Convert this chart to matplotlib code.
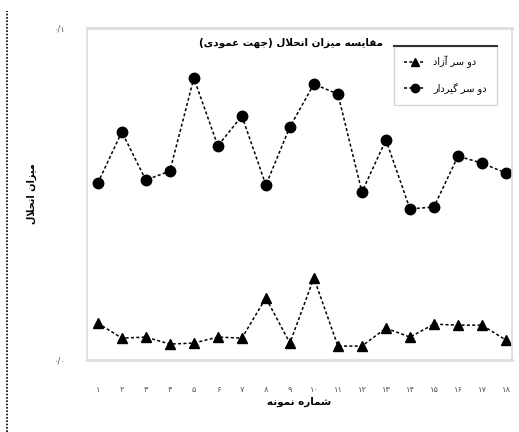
import matplotlib
matplotlib.use("Agg")
import matplotlib.pyplot as plt
from matplotlib.lines import Line2D

# ---------------- data ----------------
samples = list(range(1, 19))
tick_labels = ["۱", "۲", "۳", "۴", "۵", "۶", "۷", "۸", "۹", "۱۰",
               "۱۱", "۱۲", "۱۳", "۱۴", "۱۵", "۱۶", "۱۷", "۱۸"]
free_free = [0.0111, 0.0066, 0.0069, 0.0048, 0.0051, 0.0069, 0.0066, 0.0187, 0.0051,
             0.0247, 0.0042, 0.0042, 0.0096, 0.0069, 0.0108, 0.0105, 0.0105, 0.0060]
fixed_fixed = [0.0533, 0.0687, 0.0542, 0.0569, 0.0849, 0.0645, 0.0735, 0.0527, 0.0702,
               0.0831, 0.0801, 0.0506, 0.0663, 0.0455, 0.0461, 0.0614, 0.0593, 0.0563]
y_ticks = [0.0, 0.1]
y_tick_labels = ["۰/۰", "۰/۱"]
title_text = "مقایسه میزان انحلال (جهت عمودی)"
xlabel_text = "شماره نمونه"
ylabel_text = "میزان انحلال"
series_names = ["دو سر آزاد", "دو سر گیردار"]

# ---------------- simple Persian shaping ----------------
FORMS = {  # iso, fin, ini, med
    'ا': ('\uFE8D', '\uFE8E', None, None),
    'آ': ('\uFE81', '\uFE82', None, None),
    'د': ('\uFEA9', '\uFEAA', None, None),
    'ر': ('\uFEAD', '\uFEAE', None, None),
    'ز': ('\uFEAF', '\uFEB0', None, None),
    'و': ('\uFEED', '\uFEEE', None, None),
    'ت': ('\uFE95', '\uFE96', '\uFE97', '\uFE98'),
    'ج': ('\uFE9D', '\uFE9E', '\uFE9F', '\uFEA0'),
    'ح': ('\uFEA1', '\uFEA2', '\uFEA3', '\uFEA4'),
    'س': ('\uFEB1', '\uFEB2', '\uFEB3', '\uFEB4'),
    'ش': ('\uFEB5', '\uFEB6', '\uFEB7', '\uFEB8'),
    'ع': ('\uFEC9', '\uFECA', '\uFECB', '\uFECC'),
    'ق': ('\uFED5', '\uFED6', '\uFED7', '\uFED8'),
    'ل': ('\uFEDD', '\uFEDE', '\uFEDF', '\uFEE0'),
    'م': ('\uFEE1', '\uFEE2', '\uFEE3', '\uFEE4'),
    'ن': ('\uFEE5', '\uFEE6', '\uFEE7', '\uFEE8'),
    'ه': ('\uFEE9', '\uFEEA', '\uFEEB', '\uFEEC'),
    'ی': ('\uFBFC', '\uFBFD', '\uFBFE', '\uFBFF'),
    'گ': ('\uFB92', '\uFB93', '\uFB94', '\uFB95'),
}


def shape(text):
    chars = list(text)
    out = []
    i = 0
    n = len(chars)

    def joins_left(c):  # can connect to following letter
        return c in FORMS and FORMS[c][2] is not None

    while i < n:
        c = chars[i]
        if c not in FORMS:
            out.append(c)
            i += 1
            continue
        prev = chars[i - 1] if i > 0 else ''
        prev_join = joins_left(prev)
        # lam-alef ligature
        if c == 'ل' and i + 1 < n and chars[i + 1] == 'ا':
            out.append('\uFEFC' if prev_join else '\uFEFB')
            i += 2
            continue
        nxt = chars[i + 1] if i + 1 < n else ''
        next_join = nxt in FORMS and joins_left(c)
        iso, fin, ini, med = FORMS[c]
        if prev_join and next_join:
            out.append(med)
        elif prev_join:
            out.append(fin)
        elif next_join:
            out.append(ini)
        else:
            out.append(iso)
        i += 1
    vis = ''.join(out)[::-1]
    mirror = {'(': ')', ')': '(', '[': ']', ']': '['}
    return ''.join(mirror.get(ch, ch) for ch in vis)


plt.rcParams['font.family'] = ['DejaVu Sans']

fig = plt.figure(figsize=(5.19, 4.32), dpi=100)
ax = fig.add_axes([87 / 519, 72 / 432, 425 / 519, 332 / 432])

l1, = ax.plot(samples, free_free, linestyle=(0, (2, 1.5)), color='black', linewidth=1.1,
              marker='^', markersize=7, markerfacecolor='black', markeredgecolor='black',
              label=shape(series_names[0]))
l2, = ax.plot(samples, fixed_fixed, linestyle=(0, (2, 1.5)), color='black', linewidth=1.1,
              marker='o', markersize=7.5, markerfacecolor='black', markeredgecolor='black',
              label=shape(series_names[1]))

ax.set_xlim(0.55, 18.25)
ax.set_ylim(0, 0.1)
ax.set_xticks(samples)
ax.set_xticklabels(tick_labels, fontsize=6, color='#555555')
ax.set_yticks(y_ticks)
ax.set_yticklabels(y_tick_labels, fontsize=6, color='#555555')
ax.tick_params(axis='x', length=0, pad=18)
ax.tick_params(axis='y', length=0, pad=16)

for s in ax.spines.values():
    s.set_color('#dddddd')
    s.set_linewidth(1.2)
ax.spines['bottom'].set_linewidth(2)
ax.spines['top'].set_linewidth(2)

ax.set_xlabel(shape(xlabel_text), fontsize=7.5, fontweight='bold', labelpad=2)
ax.set_ylabel(shape(ylabel_text), fontsize=7, fontweight='bold')
ax.yaxis.set_label_coords(-50 / 425, 0.5)
ax.text(0.48, 0.955, shape(title_text), transform=ax.transAxes, ha='center', va='center',
        fontsize=7.5, fontweight='bold')

leg = ax.legend(handles=[l1, l2], loc='upper right', bbox_to_anchor=(0.975, 0.96),
                fontsize=7, frameon=True, fancybox=False, edgecolor='#cccccc',
                handlelength=2.2, borderpad=1.0, labelspacing=1.5, markerscale=0.8)
leg.get_frame().set_linewidth(1)
# darker top border of legend
fig.canvas.draw()
bb = leg.get_window_extent().transformed(fig.transFigure.inverted())
fig.add_artist(Line2D([bb.x0, bb.x1], [bb.y1, bb.y1], transform=fig.transFigure,
                      color='#333333', linewidth=1.5))

# dotted vertical line at the left edge of the figure
fig.add_artist(Line2D([7 / 519, 7 / 519], [0, 0.975], transform=fig.transFigure,
                      color='black', linewidth=1.2, linestyle=(0, (1, 1))))

fig.savefig('out.png', dpi=100)
